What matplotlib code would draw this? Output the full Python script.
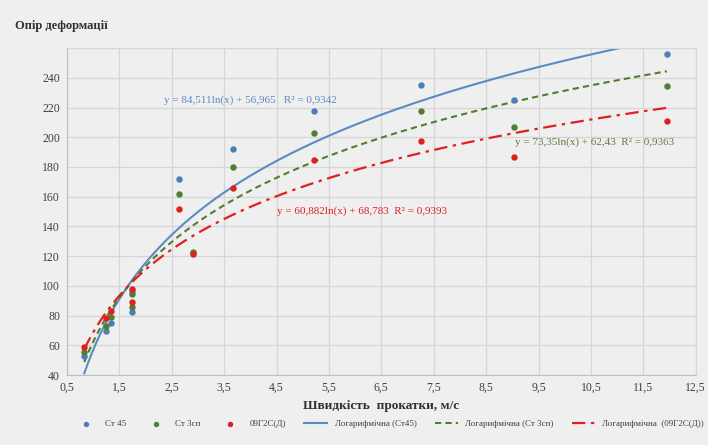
import numpy as np
import matplotlib
matplotlib.use('Agg')
import matplotlib.pyplot as plt

plt.rcParams['font.family'] = ['Liberation Serif', 'DejaVu Serif']

# дані з графіка (швидкість прокатки, опір деформації)
x_st45 = [0.83, 1.25, 1.34, 1.74, 1.74, 2.63, 2.9, 3.67, 5.21, 7.25, 9.03, 11.95]
y_st45 = [52.8, 70.0, 75.0, 82.8, 96.3, 171.8, 122.0, 192.0, 217.5, 235.3, 225.3, 256.0]
x_st3 = [0.83, 1.25, 1.34, 1.74, 1.74, 2.63, 2.9, 3.67, 5.21, 7.25, 9.03, 11.95]
y_st3 = [55.7, 73.3, 79.0, 85.7, 94.5, 162.0, 122.8, 179.7, 202.6, 217.7, 207.0, 234.6]
x_09g2s = [0.83, 1.25, 1.34, 1.74, 1.74, 2.63, 2.9, 3.67, 5.21, 7.25, 9.03, 11.95]
y_09g2s = [59.1, 78.5, 83.2, 89.3, 98.1, 152.0, 121.8, 165.7, 184.6, 197.4, 186.6, 211.0]

# коефіцієнти логарифмічних трендів y = a*ln(x) + b
trend_st45 = (84.511, 56.965)
trend_st3 = (73.35, 62.43)
trend_09g2s = (60.882, 68.783)

xticks = [0.5, 1.5, 2.5, 3.5, 4.5, 5.5, 6.5, 7.5, 8.5, 9.5, 10.5, 11.5, 12.5]
yticks = [40, 60, 80, 100, 120, 140, 160, 180, 200, 220, 240, 260]

c_blue = '#4a7ebb'
c_green = '#4f7f2e'
c_red = '#e0201f'

fig = plt.figure(figsize=(7.08, 4.45), dpi=100)
fig.patch.set_facecolor('#efefef')
ax = fig.add_axes([0.0946, 0.157, 0.888, 0.735])
ax.set_facecolor('#efefef')

ax.scatter(x_st45, y_st45, s=13, color=c_blue, zorder=3, label='Ст 45')
ax.scatter(x_st3, y_st3, s=13, color=c_green, zorder=3, label='Ст 3сп')
ax.scatter(x_09g2s, y_09g2s, s=13, color=c_red, zorder=3, label='09Г2С(Д)')

xs = np.linspace(min(x_st45), max(x_st45), 300)
ax.plot(xs, trend_st45[0] * np.log(xs) + trend_st45[1], color='#5b8bc0', lw=1.5,
        label='Логарифмічна (Ст45)')
ax.plot(xs, trend_st3[0] * np.log(xs) + trend_st3[1], color=c_green, lw=1.5,
        ls=(0, (3, 2)), label='Логарифмічна (Ст 3сп)')
ax.plot(xs, trend_09g2s[0] * np.log(xs) + trend_09g2s[1], color=c_red, lw=1.6,
        ls=(0, (6, 2.5, 1.5, 2.5)), label='Логарифмічна  (09Г2С(Д))')

ax.text(2.35, 225, 'y = 84,511ln(x) + 56,965   R² = 0,9342', color='#5b8bc0', fontsize=8,
        va='center')
ax.text(4.5, 150.5, 'y = 60,882ln(x) + 68,783  R² = 0,9393', color=c_red, fontsize=8,
        va='center')
ax.text(9.05, 197, 'y = 73,35ln(x) + 62,43  R² = 0,9363', color='#5f7f3f', fontsize=8,
        va='center')

ax.set_xlim(0.5, 12.5)
ax.set_ylim(40, 260)
ax.set_xticks(xticks)
ax.set_xticklabels([str(v).replace('.', ',') for v in xticks])
ax.set_yticks(yticks)
ax.set_yticklabels([str(v) for v in yticks[:-1]] + [''])
ax.grid(True, color='#d6d6d6', lw=0.9)
ax.set_axisbelow(True)
ax.tick_params(length=0, labelsize=8.5, colors='#404040', pad=5)
for s in ['top', 'right']:
    ax.spines[s].set_color('#d6d6d6')
for s in ['left', 'bottom']:
    ax.spines[s].set_color('#bfbfbf')

ax.set_xlabel('Швидкість  прокатки, м/с', fontsize=9.5, fontweight='bold', color='#303030', labelpad=4)
fig.text(0.021, 0.935, 'Опір деформації', fontsize=9, fontweight='bold', color='#303030')

fig.legend(loc='center', bbox_to_anchor=(0.55, 0.047), ncol=6, frameon=False, fontsize=6.5,
           handlelength=2.6, columnspacing=2.0, markerscale=0.8, labelcolor='#404040')

plt.savefig('out.png', dpi=100, facecolor=fig.get_facecolor())
